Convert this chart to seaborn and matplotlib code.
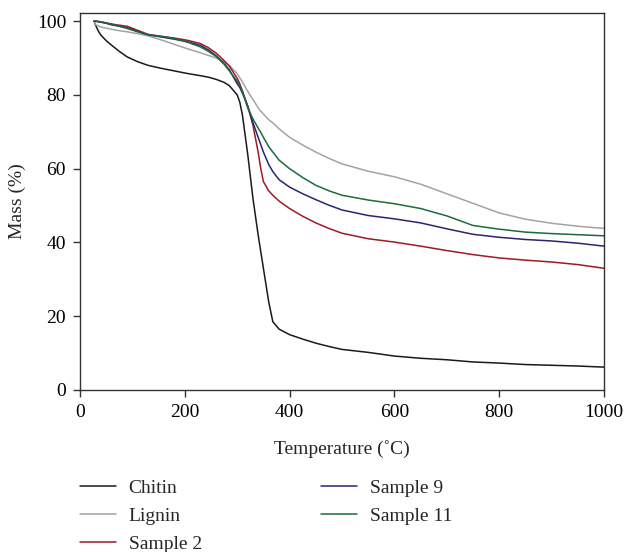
import matplotlib
matplotlib.use("Agg")
import matplotlib.pyplot as plt
import seaborn as sns

# thermogravimetric curves
temperature = [27, 30, 35, 40, 50, 60, 75, 90, 110, 130, 155, 180, 205, 230, 245, 260, 275, 285,
               300, 305, 310, 320, 330, 340, 345, 350, 360, 368, 380, 400, 425, 450, 475, 500,
               550, 600, 650, 700, 750, 800, 850, 900, 950, 1000]

chitin = [100, 98.8, 97.3, 96.2, 94.7, 93.5, 91.8, 90.3, 89.0, 88.0, 87.2, 86.5, 85.8, 85.2, 84.8,
          84.2, 83.4, 82.5, 80.0, 78.0, 74.5, 64.0, 52.0, 42.0, 37.5, 33.0, 24.0, 18.5, 16.5, 15.0,
          13.8, 12.7, 11.8, 11.0, 10.2, 9.2, 8.6, 8.2, 7.6, 7.3, 6.9, 6.7, 6.5, 6.2]
lignin = [100, 99.0, 98.7, 98.4, 98.1, 97.8, 97.4, 97.1, 96.6, 96.0, 94.9, 93.7, 92.5, 91.4, 90.7,
          90.0, 89.0, 88.0, 85.8, 84.6, 83.5, 81.0, 78.8, 76.5, 75.6, 74.8, 73.3, 72.4, 70.8, 68.5,
          66.4, 64.5, 62.8, 61.3, 59.3, 57.8, 55.8, 53.2, 50.6, 48.0, 46.3, 45.2, 44.4, 43.8]
sample_2 = [100, 100, 99.9, 99.8, 99.5, 99.2, 98.9, 98.6, 97.5, 96.4, 95.9, 95.4, 94.8, 93.9, 92.8,
            91.3, 89.3, 87.8, 84.5, 83.0, 81.0, 77.0, 71.8, 64.5, 60.0, 56.5, 54.0, 52.8, 51.2, 49.2,
            47.1, 45.3, 43.8, 42.5, 41.0, 40.1, 39.0, 37.8, 36.7, 35.8, 35.2, 34.7, 34.0, 33.0]
sample_9 = [100, 100, 99.8, 99.7, 99.4, 99.0, 98.6, 98.2, 97.2, 96.3, 95.7, 95.1, 94.4, 93.4, 92.2,
            90.6, 88.5, 86.8, 83.0, 82.0, 80.5, 77.0, 72.5, 68.5, 66.5, 64.5, 61.2, 59.2, 57.0, 55.0,
            53.2, 51.6, 50.1, 48.8, 47.3, 46.4, 45.3, 43.7, 42.2, 41.4, 40.8, 40.4, 39.8, 39.0]
sample_11 = [100, 100, 99.9, 99.8, 99.5, 99.2, 98.6, 98.0, 97.1, 96.3, 95.8, 95.3, 94.3, 93.0, 91.8,
             90.4, 88.3, 86.5, 83.7, 82.5, 81.0, 76.5, 73.5, 71.0, 69.8, 68.5, 66.0, 64.5, 62.3, 60.0,
             57.6, 55.5, 54.0, 52.8, 51.5, 50.5, 49.2, 47.2, 44.6, 43.6, 42.8, 42.4, 42.1, 41.8]

labels = ["Chitin", "Lignin", "Sample 2", "Sample 9", "Sample 11"]
series = [chitin, lignin, sample_2, sample_9, sample_11]
colors = ["#1a1a1a", "#a3a3a3", "#9e1b22", "#2a2472", "#1b6b3c"]

sns.set_style("ticks")
plt.rcParams["font.family"] = ["Liberation Serif", "DejaVu Serif"]
plt.rcParams["font.size"] = 14

fig = plt.figure(figsize=(6.26, 5.52), dpi=100)
ax = fig.add_axes([80 / 626, 1 - 390 / 552, 524 / 626, 377 / 552])

for name, vals, col in zip(labels, series, colors):
    sns.lineplot(x=temperature, y=vals, color=col, label=name, linewidth=1.1, ax=ax)

ax.set_xlim(0, 1000)
ax.set_ylim(0, 102.2)
ax.set_xticks([0, 200, 400, 600, 800, 1000])
ax.set_yticks([0, 20, 40, 60, 80, 100])
ax.tick_params(direction="out", length=5, width=1, colors="#333333", labelcolor="black",
               labelsize=14, pad=5)
for sp in ax.spines.values():
    sp.set_color("#333333")
    sp.set_linewidth(1.0)
ax.set_xlabel("Temperature (˚C)", fontsize=14, labelpad=14)
ax.set_ylabel("Mass (%)", fontsize=14, labelpad=8)

ax.legend(loc="upper left", bbox_to_anchor=(80 / 626, 1 - 479 / 552),
          bbox_transform=fig.transFigure, ncol=2, frameon=False, fontsize=14,
          handlelength=1.85, handletextpad=0.65, columnspacing=6.15,
          labelspacing=0.55, borderpad=0, borderaxespad=0)

fig.savefig("out.png", dpi=100)
